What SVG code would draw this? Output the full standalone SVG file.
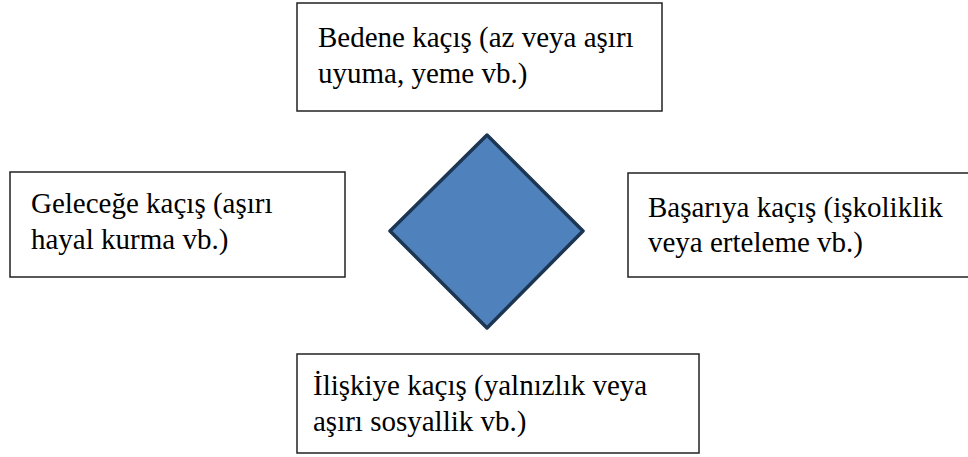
<svg xmlns="http://www.w3.org/2000/svg" width="968" height="457" viewBox="0 0 968 457">
<style>
.box{fill:#fff;stroke:#222;stroke-width:1.5}
.t{font-family:"Liberation Serif","Times New Roman",serif;font-size:29px;fill:#000}
.dia{fill:#4F81BD;stroke:#1C3552;stroke-width:3.5;stroke-linejoin:round}
</style>
<rect width="968" height="457" fill="#fff"/>
<g id="center">
<polygon class="dia" points="487,135 583,231 487,328 390,231"/>
</g>
<g id="beden">
<rect class="box" x="297" y="3" width="365" height="108"/>
<text class="t" x="318" y="47">Bedene kaçış (az veya aşırı</text>
<text class="t" x="318" y="83">uyuma, yeme vb.)</text>
</g>
<g id="gelecek">
<rect class="box" x="10" y="172" width="335" height="105"/>
<text class="t" x="31" y="213">Geleceğe kaçış (aşırı</text>
<text class="t" x="31" y="249">hayal kurma vb.)</text>
</g>
<g id="basari">
<rect class="box" x="628" y="173" width="350" height="104"/>
<text class="t" x="648" y="217">Başarıya kaçış (işkoliklik</text>
<text class="t" x="648" y="252">veya erteleme vb.)</text>
</g>
<g id="iliski">
<rect class="box" x="297" y="354" width="402" height="99"/>
<text class="t" x="313" y="395">İlişkiye kaçış (yalnızlık veya</text>
<text class="t" x="313" y="431">aşırı sosyallik vb.)</text>
</g>
<g id="connectors"></g>
</svg>
